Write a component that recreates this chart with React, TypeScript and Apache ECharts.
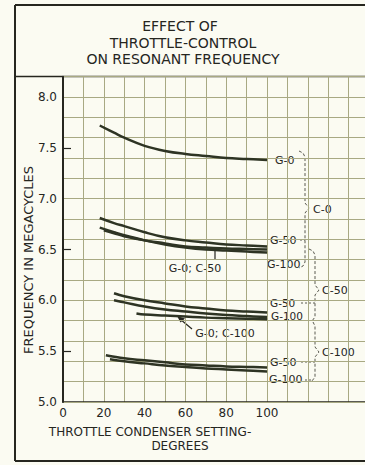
import React, { useEffect, useRef } from "react";
import * as echarts from "echarts";

const titleLines = ["EFFECT OF", "THROTTLE-CONTROL", "ON RESONANT FREQUENCY"];
const xAxisTitle = "THROTTLE CONDENSER SETTING-";
const xAxisTitle2 = "DEGREES";
const yAxisTitle = "FREQUENCY IN MEGACYCLES";

const xTickLabels = [0, 20, 40, 60, 80, 100];
const yTickLabels = [5.0, 5.5, 6.0, 6.5, 7.0, 7.5, 8.0];
const yMidTicks = [5.5, 6.5, 7.5];

// C-0 group
const xC0 = [18, 25, 30, 40, 50, 60, 70, 80, 90, 100];
const yC0G0 = [7.72, 7.65, 7.6, 7.52, 7.47, 7.44, 7.42, 7.4, 7.39, 7.38];
const yC0G50 = [6.81, 6.76, 6.73, 6.67, 6.62, 6.59, 6.57, 6.55, 6.54, 6.53];
const yC0G100 = [6.715, 6.67, 6.64, 6.59, 6.55, 6.52, 6.5, 6.49, 6.48, 6.47];
// C-50 group
const xC50G0 = [20, 25, 30, 40, 50, 60, 70, 80, 90, 100];
const yC50G0 = [6.69, 6.66, 6.63, 6.59, 6.56, 6.53, 6.52, 6.51, 6.505, 6.5];
const xC50 = [25, 30, 40, 50, 60, 70, 80, 90, 100];
const yC50G50 = [6.07, 6.04, 6.0, 5.97, 5.94, 5.92, 5.9, 5.89, 5.88];
const yC50G100 = [6.0, 5.98, 5.94, 5.91, 5.89, 5.87, 5.855, 5.845, 5.835];
// C-100 group
const xC100G0 = [36, 40, 50, 60, 70, 80, 90, 100];
const yC100G0 = [5.87, 5.86, 5.85, 5.84, 5.83, 5.825, 5.82, 5.815];
const xC100G50 = [21, 30, 40, 50, 60, 70, 80, 90, 100];
const yC100G50 = [5.46, 5.43, 5.41, 5.39, 5.37, 5.36, 5.35, 5.345, 5.34];
const xC100G100 = [23, 30, 40, 50, 60, 70, 80, 90, 100];
const yC100G100 = [5.42, 5.4, 5.38, 5.36, 5.345, 5.33, 5.32, 5.31, 5.3];

const FONT = "DejaVu Sans";
const INK = "#26261f";
const CURVE = "#2e3424";
const GRIDC = "#a8a983";
const DASH = "#5a5a50";

const zip = (xs: number[], ys: number[]) => xs.map((x, i) => [x, ys[i]]);

const curves: [string, number[], number[]][] = [
  ["G-0 C-0", xC0, yC0G0],
  ["G-50 C-0", xC0, yC0G50],
  ["G-100 C-0", xC0, yC0G100],
  ["G-0 C-50", xC50G0, yC50G0],
  ["G-50 C-50", xC50, yC50G50],
  ["G-100 C-50", xC50, yC50G100],
  ["G-0 C-100", xC100G0, yC100G0],
  ["G-50 C-100", xC100G50, yC100G50],
  ["G-100 C-100", xC100G100, yC100G100],
];

const txt = (text: string, x: number, y: number, size = 11, align = "left", extra: any = {}) => ({
  type: "text",
  x,
  y,
  ...extra,
  style: {
    text,
    fill: INK,
    font: `${size}px "${FONT}"`,
    textAlign: align,
    textVerticalAlign: "middle",
  },
});

const ln = (x1: number, y1: number, x2: number, y2: number, stroke = INK, lineWidth = 2, dash?: number[]) => ({
  type: "line",
  shape: { x1, y1, x2, y2 },
  style: { stroke, lineWidth, lineDash: dash },
});

const pl = (points: number[][]) => ({
  type: "polyline",
  shape: { points },
  style: { stroke: DASH, lineWidth: 1, lineDash: [3, 2], fill: null },
});

export default function App() {
  const ref = useRef<HTMLDivElement>(null);
  useEffect(() => {
    if (!ref.current) return;
    const chart = echarts.init(ref.current, undefined, { renderer: "svg" });
    const option: any = {
      animation: false,
      backgroundColor: "#fbfbf2",
      grid: { left: 63, right: 0, top: 76.7, bottom: 63 },
      xAxis: {
        type: "value",
        min: 0,
        max: 148,
        interval: 10,
        axisLine: { show: true, onZero: false, lineStyle: { color: INK, width: 1.5 } },
        axisTick: { show: false },
        axisLabel: {
          customValues: xTickLabels,
          margin: 5,
          fontSize: 12,
          fontFamily: FONT,
          color: INK,
        },
        splitLine: { show: true, lineStyle: { color: GRIDC, width: 1 } },
      },
      yAxis: [
        {
          type: "value",
          min: 5,
          max: 8.2,
          interval: 0.2,
          z: 3,
          axisLine: { show: true, onZero: false, lineStyle: { color: INK, width: 2 } },
          axisTick: {
            show: true,
            inside: true,
            length: 8,
            customValues: yMidTicks,
            lineStyle: { color: INK, width: 1.2 },
          },
          axisLabel: {
            customValues: yTickLabels,
            formatter: (v: number) => v.toFixed(1),
            margin: 6,
            fontSize: 12,
            fontFamily: FONT,
            color: INK,
          },
          splitLine: { show: false },
        },
        {
          type: "value",
          position: "left",
          min: 5,
          max: 8.2,
          interval: 0.2,
          z: 1,
          axisLine: { show: false },
          axisTick: { show: false },
          axisLabel: { show: false },
          splitLine: { show: true, lineStyle: { color: GRIDC, width: 1 } },
        },
      ],
      series: curves.map(([name, xs, ys]) => ({
        name,
        type: "line",
        yAxisIndex: 0,
        data: zip(xs, ys),
        smooth: 0.4,
        showSymbol: false,
        lineStyle: { color: CURVE, width: 2.5 },
      })),
      graphic: [
        // frame
        ln(15, 5, 365, 5, INK, 2),
        ln(15, 5, 15, 461, INK, 2),
        ln(15, 461, 365, 461, INK, 2),
        ln(15, 76.5, 365, 76.5, INK, 1.5),
        // title
        txt(titleLines[0], 180, 26, 14, "center"),
        txt(titleLines[1], 183, 42.5, 14, "center"),
        txt(titleLines[2], 183, 59, 14, "center"),
        // axis names
        txt(xAxisTitle, 150, 432, 12, "center"),
        txt(xAxisTitle2, 180, 446, 12, "center"),
        txt(yAxisTitle, 28, 260, 13, "center", { rotation: Math.PI / 2 }),
        // C-0 labels
        txt("G-0", 275, 160, 11),
        txt("G-50", 270, 240, 11),
        txt("G-100", 267, 264, 11),
        txt("C-0", 313, 209, 11),
        txt("G-0; C-50", 195, 268, 11, "center"),
        ln(215, 249, 215, 259, INK, 1.2),
        // C-50 labels
        txt("G-50", 270, 303, 10.5),
        txt("G-100", 271, 315.5, 10.5),
        txt("C-50", 322, 290, 11),
        txt("G-0; C-100", 225, 333, 11, "center"),
        ln(192, 329, 180, 319, INK, 1.2),
        {
          type: "polygon",
          shape: { points: [[177, 316], [185, 318.5], [180.5, 322.5]] },
          style: { fill: INK },
        },
        // C-100 labels
        txt("G-50", 270, 362, 11),
        txt("G-100", 269, 379, 11),
        txt("C-100", 322, 352, 11),
        // braces
        pl([[299, 151], [303, 153], [305, 157], [305, 203], [309, 208], [305, 213], [305, 262], [303, 266], [299, 268]]),
        pl([[309, 249], [313, 251], [315, 255], [315, 285], [319, 290], [315, 295], [315, 317], [312, 321]]),
        pl([[313, 322], [315, 326], [315, 347], [319, 352], [315, 357], [315, 377], [312, 381]]),
        // connectors
        ln(300, 240, 305, 240, DASH, 1, [2, 2]),
        ln(301, 303, 315, 303, DASH, 1, [2, 2]),
        ln(301, 362, 315, 362, DASH, 1, [2, 2]),
        ln(305, 380, 312, 380, DASH, 1, [2, 2]),
      ],
    };
    chart.setOption(option);
    return () => chart.dispose();
  }, []);
  return (
    <div
      ref={ref}
      style={{ position: "fixed", left: 0, top: 0, width: 365, height: 465 }}
    />
  );
}
